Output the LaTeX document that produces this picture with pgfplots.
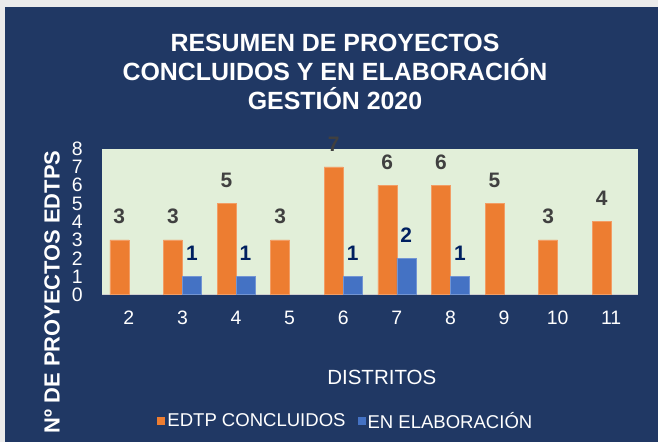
\documentclass[border=0pt]{standalone}
\usepackage{pgfplots}
\pgfplotsset{compat=1.18}
\usepackage{fontspec}
\setmainfont{Liberation Sans}
\definecolor{navy}{HTML}{203864}
\definecolor{plotgreen}{HTML}{E2EFD9}
\definecolor{barorange}{HTML}{ED7D31}
\definecolor{barblue}{HTML}{4472C4}
\definecolor{labgray}{HTML}{404040}
\definecolor{labnavy}{HTML}{002060}
\definecolor{axgray}{HTML}{D0D0D0}
\begin{document}
\begin{tikzpicture}[x=1bp,y=1bp]
\useasboundingbox (0,0) rectangle (658,442);
\fill[black!8] (0,0) rectangle (658,442);
\fill[navy] (5,0) rectangle (658,435);
\node[align=center, text=white, font=\bfseries\fontsize{25}{29.5}\selectfont] at (335,370)
  {RESUMEN DE PROYECTOS\\CONCLUIDOS Y EN ELABORACIÓN\\GESTIÓN 2020};
\node[rotate=90, text=white, font=\bfseries\fontsize{22}{24}\selectfont] at (52,150) {Nº DE PROYECTOS EDTPS};
\begin{axis}[
  at={(102bp,147.25bp)}, anchor=south west,
  scale only axis, width=536bp, height=146bp,
  xmin=1.5, xmax=11.5, ymin=0, ymax=8,
  xtick={2,...,11}, ytick={0,...,8},
  major tick length=0pt,
  axis background/.style={fill=plotgreen},
  axis x line=bottom, axis y line=left,
  x axis line style={-, draw=axgray, line width=1.5bp},
  y axis line style={draw=none},
  /pgf/number format/assume math mode=true,
  tick label style={text=white, font=\fontsize{19.5}{20}\selectfont},
  yticklabel style={anchor=east, inner sep=0pt, xshift=-19bp},
  xticklabel style={anchor=north, inner sep=0pt, yshift=-16bp},
  xlabel={DISTRITOS},
  xlabel style={at={(0.522,-0.569)}, anchor=center, text=white, font=\fontsize{20.6}{22}\selectfont},
  ybar=0pt, bar width=19bp,
  clip=false,
  legend columns=2,
  legend style={at={(0.455,-0.864)}, anchor=center, draw=none, fill=none, text=white,
    font=\fontsize{18.6}{20}\selectfont, nodes={inner sep=2bp},
    /tikz/every even column/.append style={column sep=10bp}},
  legend image code/.code={\fill[#1, draw=none] (0bp,-4bp) rectangle (8bp,4bp);},
]
\addplot[fill=barorange, draw=barorange!75!white, line width=0.6bp,
  nodes near coords,
  every node near coord/.append style={anchor=south, inner sep=0pt, yshift=15.5bp,
    text=labgray, font=\bfseries\fontsize{21}{22}\selectfont}]
  coordinates {(2,3) (3,3) (4,5) (5,3) (6,7) (7,6) (8,6) (9,5) (10,3) (11,4)};
\addlegendentry{EDTP CONCLUIDOS}
\addplot[fill=barblue, draw=barblue!75!white, line width=0.6bp,
  nodes near coords,
  every node near coord/.append style={anchor=south, inner sep=0pt, yshift=15.5bp,
    text=labnavy, font=\bfseries\fontsize{21}{22}\selectfont}]
  coordinates {(3,1) (4,1) (6,1) (7,2) (8,1)};
\addlegendentry{EN ELABORACIÓN}
\end{axis}
\end{tikzpicture}
\end{document}
